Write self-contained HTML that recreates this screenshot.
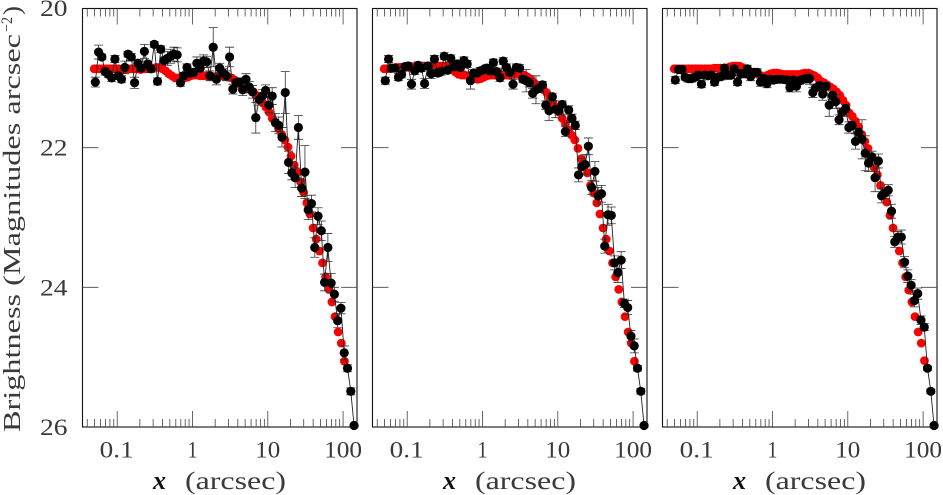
<!DOCTYPE html>
<html>
<head>
<meta charset="utf-8">
<style>
html,body{margin:0;padding:0;background:#fff;width:943px;height:495px;overflow:hidden}
svg{display:block}
text{font-family:"Liberation Serif",serif;fill:#3a3a3a}
</style>
</head>
<body>
<svg id="chart" width="943" height="495" viewBox="0 0 943 495" xmlns="http://www.w3.org/2000/svg">
  <text transform="translate(20,432) rotate(-90)" font-size="24" textLength="398" lengthAdjust="spacingAndGlyphs">Brightness (Magnitudes arcsec</text>
  <text transform="translate(12,32) rotate(-90)" font-size="16" textLength="15" lengthAdjust="spacingAndGlyphs">−2</text>
  <text transform="translate(20,15) rotate(-90)" font-size="24" textLength="9" lengthAdjust="spacingAndGlyphs">)</text>
</svg>
<script>
const blackX = [0.0512,0.0566,0.0625,0.0691,0.0764,0.0844,0.0933,0.1031,0.114,0.126,0.1393,0.154,0.1702,0.1881,0.208,0.2298,0.2541,0.2808,0.3105,0.3431,0.3793,0.4194,0.4634,0.5122,0.5662,0.6258,0.6918,0.7646,0.8453,0.9343,1.033,1.142,1.262,1.395,1.542,1.704,1.884,2.082,2.301,2.544,2.812,3.108,3.436,3.798,4.198,4.64,5.129,5.669,6.266,6.926,7.656,8.463,9.354,10.34,11.43,12.63,13.96,15.43,17.06,18.86,20.84,23.04,25.47,28.15,31.12,34.39,38.02,42.03,46.45,51.34,56.75,62.74,69.34,76.65,84.72,93.65,103.5,114.4,126.5,139.8];
const modelX = [0.0495,0.0532,0.0586,0.0645,0.0710,0.0781,0.0860,0.0947,0.1042,0.1147,0.1262,0.1390,0.1530,0.1684,0.1853,0.2040,0.2245,0.2471,0.2720,0.2994,0.3296,0.3627,0.3993,0.4395,0.4837,0.5324,0.5860,0.6450,0.7100,0.7815,0.8602,0.9468,1.042,1.147,1.263,1.390,1.530,1.684,1.853,2.040,2.245,2.471,2.720,2.994,3.296,3.627,3.993,4.395,4.837,5.324,5.860,6.450,7.100,7.815,8.602,9.468,10.42,11.47,12.63,13.90,15.30,16.84,18.53,20.40,22.45,24.71,27.20,29.94,32.96,36.27,39.93,43.95,48.37,53.24,58.60,64.50,71.00,78.15,86.02,94.68,104.2];

const blackMag1 = [21.06,20.63,20.70,20.91,20.95,21.00,20.73,20.97,21.02,20.85,20.66,20.70,21.07,20.79,20.86,20.62,20.80,20.87,20.52,21.05,20.59,20.75,20.72,20.69,20.66,20.67,21.07,20.97,20.85,20.93,20.92,20.79,20.86,20.76,20.77,20.97,20.56,21.02,20.86,20.93,20.97,20.70,21.16,21.07,21.06,21.17,21.02,21.13,21.20,21.57,21.31,21.26,21.18,21.39,21.26,21.64,21.68,21.85,21.21,22.21,22.36,22.43,21.71,22.58,22.35,22.89,22.80,23.43,22.98,23.19,23.93,23.43,23.94,24.10,24.48,24.30,24.94,25.16,25.49,25.98];
const blackErr1 = [.07,.10,.04,.05,.04,.05,.05,.05,.05,.09,.04,.05,.08,.05,.04,.10,.04,.05,.04,.05,.05,.05,.10,.10,.10,.10,.05,.05,.05,.05,.05,.09,.05,.09,.08,.07,.28,.08,.07,.06,.07,.14,.07,.05,.06,.08,.08,.08,.09,.22,.08,.09,.08,.11,.12,.13,.12,.14,.30,.16,.10,.14,.17,.12,.38,.14,.12,.14,.12,.14,.12,.20,.14,.10,.10,.08,.10,.05,.05,.02];
const modelMag1 = [20.87,20.87,20.87,20.87,20.87,20.87,20.87,20.87,20.87,20.88,20.88,20.87,20.87,20.87,20.87,20.88,20.87,20.87,20.86,20.86,20.85,20.85,20.87,20.90,20.94,20.97,21.00,21.00,21.00,21.00,20.99,20.97,20.96,20.96,20.97,20.97,20.97,20.98,20.98,20.98,20.97,20.97,20.98,20.99,21.00,21.03,21.07,21.10,21.13,21.16,21.17,21.20,21.25,21.32,21.36,21.42,21.49,21.58,21.65,21.73,21.81,21.89,21.99,22.12,22.25,22.35,22.49,22.64,22.79,22.95,23.15,23.31,23.48,23.65,23.85,24.03,24.21,24.42,24.64,24.80,25.06];

const blackMag2 = [21.04,20.73,20.86,20.86,20.99,20.95,20.84,20.83,21.09,20.90,20.82,20.86,21.08,20.83,20.94,20.73,20.93,20.91,20.69,20.89,20.72,20.84,20.80,20.85,20.75,20.80,21.04,20.93,20.93,20.90,20.88,20.86,20.90,20.78,20.91,21.00,20.76,20.85,20.92,21.09,20.85,20.86,21.02,21.04,21.07,21.22,21.17,21.15,21.10,21.39,21.47,21.27,21.45,21.47,21.38,21.77,21.46,21.58,21.68,22.39,22.27,22.24,21.98,22.57,22.34,22.69,22.66,23.41,22.96,22.97,23.65,23.79,23.61,24.23,24.29,24.70,24.84,25.16,25.49,25.98];
const blackErr2 = [.05,.05,.05,.05,.05,.05,.05,.05,.07,.05,.05,.05,.07,.05,.07,.05,.05,.05,.05,.05,.05,.05,.05,.05,.05,.05,.12,.05,.05,.05,.04,.05,.05,.05,.05,.05,.05,.05,.05,.07,.05,.05,.05,.16,.06,.07,.20,.06,.05,.06,.14,.05,.12,.06,.05,.07,.06,.06,.06,.10,.12,.14,.12,.10,.14,.12,.12,.10,.15,.12,.10,.14,.12,.06,.10,.08,.10,.04,.04,.02];
const modelMag2 = [20.87,20.87,20.87,20.86,20.85,20.85,20.85,20.85,20.85,20.85,20.84,20.84,20.84,20.83,20.83,20.83,20.83,20.83,20.83,20.83,20.83,20.84,20.87,20.92,20.95,20.96,20.96,20.97,20.99,21.01,21.02,21.01,20.99,20.97,20.96,20.96,20.96,20.96,20.96,20.96,20.96,20.95,20.95,20.95,20.95,20.96,20.99,21.02,21.07,21.12,21.15,21.17,21.21,21.29,21.36,21.42,21.49,21.58,21.66,21.75,21.82,21.89,22.01,22.16,22.26,22.36,22.54,22.65,22.79,22.95,23.15,23.31,23.48,23.65,23.85,24.03,24.21,24.42,24.64,24.80,25.06];

const blackMag3 = [21.03,20.88,20.88,20.99,21.01,21.01,20.99,20.96,21.09,20.96,20.97,20.96,21.06,20.99,20.98,20.86,20.96,20.96,20.87,21.06,20.94,20.94,20.87,20.98,20.92,20.92,21.06,21.01,21.08,21.02,21.03,21.02,21.02,21.02,21.03,21.14,21.03,21.12,21.04,21.02,21.01,21.01,21.21,21.14,21.11,21.23,21.12,21.39,21.25,21.34,21.60,21.49,21.44,21.71,21.68,21.91,21.78,21.88,22.08,22.22,22.13,22.43,22.19,22.69,22.65,22.61,22.91,23.35,23.28,23.28,23.64,23.84,23.97,24.19,24.09,24.47,24.57,25.16,25.49,25.98];
const blackErr3 = [.05,.05,.05,.04,.05,.05,.05,.05,.05,.05,.04,.05,.05,.05,.05,.05,.06,.05,.04,.05,.05,.06,.05,.06,.05,.05,.06,.05,.06,.05,.05,.05,.05,.05,.05,.06,.05,.08,.05,.05,.05,.08,.07,.05,.05,.09,.05,.16,.06,.10,.07,.06,.06,.08,.06,.11,.06,.28,.25,.12,.08,.20,.10,.10,.08,.08,.10,.08,.08,.10,.08,.09,.08,.09,.08,.06,.05,.03,.03,.02];
const modelMag3 = [20.87,20.87,20.87,20.87,20.87,20.87,20.87,20.87,20.87,20.87,20.87,20.87,20.87,20.86,20.86,20.86,20.86,20.86,20.84,20.83,20.83,20.83,20.85,20.87,20.90,20.92,20.92,20.95,20.97,20.99,20.96,20.94,20.93,20.93,20.94,20.95,20.95,20.95,20.95,20.95,20.95,20.94,20.93,20.93,20.95,20.97,21.00,21.05,21.07,21.10,21.13,21.16,21.20,21.25,21.32,21.39,21.50,21.55,21.62,21.70,21.81,21.91,22.01,22.15,22.29,22.39,22.54,22.65,22.78,22.97,23.15,23.32,23.48,23.65,23.85,24.04,24.21,24.42,24.64,24.80,25.05];

const xMajorTicks = [0.1,1,10,100];
const xMinorTicks = [0.04,0.05,0.06,0.07,0.08,0.09,0.2,0.3,0.4,0.5,0.6,0.7,0.8,0.9,2,3,4,5,6,7,8,9,20,30,40,50,60,70,80,90];
const xTickLabels = ["0.1","1","10","100"];
const yTicks = [20,22,24,26];
const yInnerTicks = [22,24];
const yTickLabels = ["20","22","24","26"];

const SVGNS = "http://www.w3.org/2000/svg";
const svg = document.getElementById("chart");
const axisLeft = 82.5, axisRight = 357, axisTop = 8.5, axisBottom = 427;

function xScale(v, off) { return 192.5 + 75.3 * Math.log10(v) + off; }
function yScale(m) { return 8.1 + (m - 20) * 69.8; }
function make(parent, tag, attrs) {
  const el = document.createElementNS(SVGNS, tag);
  for (const k in attrs) el.setAttribute(k, attrs[k]);
  parent.appendChild(el);
  return el;
}

const panels = [
  { off: 0, mags: blackMag1, errs: blackErr1, model: modelMag1 },
  { off: 290, mags: blackMag2, errs: blackErr2, model: modelMag2 },
  { off: 580, mags: blackMag3, errs: blackErr3, model: modelMag3 }
];

panels.forEach(function (p, pi) {
  const g = make(svg, "g", {});
  
  

  modelX.forEach(function (x, i) {
    const c = make(g, "circle", { cx: xScale(x, p.off), cy: yScale(p.model[i]), r: 4.4, fill: "#ff0000" });
    
    
  });

  blackX.forEach(function (x, i) {
    const px = xScale(x, p.off);
    const top = yScale(p.mags[i] - p.errs[i]);
    const bot = yScale(p.mags[i] + p.errs[i]);
    const d = "M" + px + " " + top + "V" + bot + "M" + (px - 4.5) + " " + top + "H" + (px + 4.5) + "M" + (px - 4.5) + " " + bot + "H" + (px + 4.5);
    const e = make(g, "path", { d: d, fill: "none", stroke: "#333", "stroke-width": 0.8 });
    
    
  });

  const pts = blackX.map(function (x, i) { return xScale(x, p.off) + "," + yScale(p.mags[i]); }).join(" ");
  const line = make(g, "polyline", { points: pts, fill: "none", stroke: "#222", "stroke-width": 0.9 });
  
  

  blackX.forEach(function (x, i) {
    const c = make(g, "circle", { cx: xScale(x, p.off), cy: yScale(p.mags[i]), r: 4.6, fill: "#000" });
    
    
  });

  const frame = make(g, "rect", { x: axisLeft + p.off, y: axisTop, width: axisRight - axisLeft, height: axisBottom - axisTop, fill: "none", stroke: "#111", "stroke-width": 1.1 });
  
  

  function xTick(v, len) {
    const px = xScale(v, p.off);
    const t = make(g, "path", { d: "M" + px + " " + axisBottom + "v" + (-len) + "M" + px + " " + axisTop + "v" + len, stroke: "#444", "stroke-width": 0.8, fill: "none" });
    
    
  }
  xMajorTicks.forEach(function (v) { xTick(v, 16); });
  xMinorTicks.forEach(function (v) { xTick(v, 8); });

  yInnerTicks.forEach(function (m) {
    const py = yScale(m);
    const t = make(g, "path", { d: "M" + (axisLeft + p.off) + " " + py + "h16M" + (axisRight + p.off) + " " + py + "h-16", stroke: "#444", "stroke-width": 0.8, fill: "none" });
    
    
  });

  xMajorTicks.forEach(function (v, i) {
    const w = [34, 10, 25, 38][i];
    const t = make(g, "text", { x: xScale(v, p.off) - w / 2 + (i === 0 ? -0.5 : 0), y: 457.5, "font-size": 23, textLength: w, lengthAdjust: "spacingAndGlyphs" });
    t.textContent = xTickLabels[i];
    
    
  });

  const xl = make(g, "text", { x: 153 + p.off, y: 489, "font-size": 26, "font-weight": "bold", "font-style": "italic", style: "fill:#111" });
  xl.textContent = "x";
  
  

  const xu = make(g, "text", { x: 185 + p.off, y: 489, "font-size": 25, textLength: 101, lengthAdjust: "spacingAndGlyphs" });
  xu.textContent = "(arcsec)";
  
  
});

yTicks.forEach(function (m, i) {
  const t = make(svg, "text", { x: 40, y: yScale(m) + 8, "font-size": 23, textLength: 27.5, lengthAdjust: "spacingAndGlyphs" });
  t.textContent = yTickLabels[i];
  
  
});
</script>
</body>
</html>
